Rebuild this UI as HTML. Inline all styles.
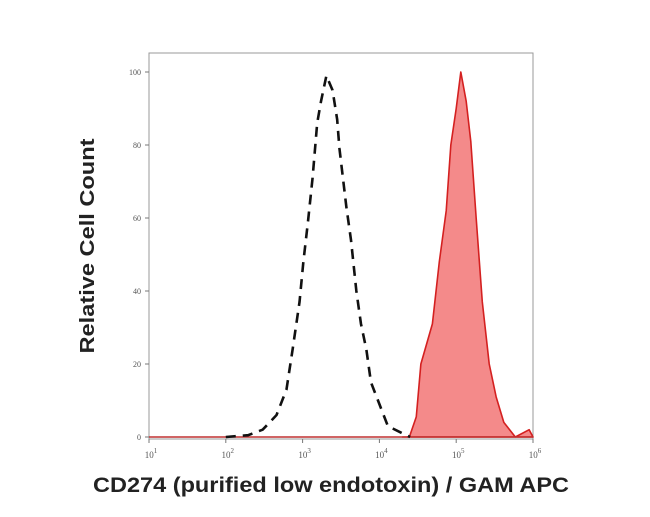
<!DOCTYPE html>
<html><head><meta charset="utf-8"><style>
html,body{margin:0;padding:0;background:#fff;}
svg{display:block;}
</style></head><body>
<svg id="chart" width="650" height="517" viewBox="0 0 650 517" xmlns="http://www.w3.org/2000/svg">
<g id="plot"></g>
<text transform="translate(94,246) rotate(-90)" text-anchor="middle" font-family="Liberation Sans, sans-serif" font-weight="bold" font-size="20" fill="#222" textLength="215" lengthAdjust="spacingAndGlyphs">Relative Cell Count</text>
<text x="331" y="492" text-anchor="middle" font-family="Liberation Sans, sans-serif" font-weight="bold" font-size="21" fill="#222" textLength="476" lengthAdjust="spacingAndGlyphs">CD274 (purified low endotoxin) / GAM APC</text>
</svg>
<script>
const xTickExps = [1,2,3,4,5,6];
const yTicks = [0,20,40,60,80,100];
const controlLog = [2.0,2.29,2.48,2.66,2.79,2.87,2.96,3.01,3.07,3.13,3.19,3.24,3.31,3.39,3.45,3.48,3.57,3.63,3.70,3.76,3.83,3.89,4.00,4.11,4.30,4.4];
const controlVal = [0,0.5,2,6,13,24,37,48,59,71,86,92,99,95,87,79,63,54,40,31,24,15,9,3,1,0];
const stainedLog = [4.3,4.39,4.48,4.54,4.69,4.78,4.87,4.93,5.00,5.06,5.13,5.19,5.26,5.34,5.43,5.52,5.62,5.77,5.95,6.0];
const stainedVal = [0,0,5.5,20,31,48,62,80,90,100,92,81,60,37,20,11,4,0,2,0];

const L=149,R=533,T=53,B=439,Y0=437,Y100=72;
const xs = v => L + (v-1)*(R-L)/5;
const ys = v => Y0 - v*(Y0-Y100)/100;
const NS="http://www.w3.org/2000/svg";
const g=document.getElementById('plot');
function mk(tag,attrs){const e=document.createElementNS(NS,tag);for(const k in attrs)e.setAttribute(k,attrs[k]);g.appendChild(e);return e;}

const frame=mk('rect',{x:L,y:T,width:R-L,height:B-T,fill:'none',stroke:'#999','stroke-width':1});



yTicks.forEach(v=>{
  const t=mk('line',{x1:L-4,x2:L,y1:ys(v),y2:ys(v),stroke:'#777'});
  
  
  const lb=mk('text',{x:L-8,y:ys(v)+3,'text-anchor':'end','font-family':'Liberation Serif, serif','font-size':8,fill:'#555'});
  lb.textContent=v;
  
  
});
xTickExps.forEach(e=>{
  const t=mk('line',{x1:xs(e),x2:xs(e),y1:B,y2:B+4,stroke:'#777'});
  
  
  const lb=mk('text',{x:xs(e)+2,y:B+19,'text-anchor':'middle','font-family':'Liberation Serif, serif','font-size':9,fill:'#555'});
  lb.textContent='10';
  const sp=document.createElementNS(NS,'tspan');sp.setAttribute('dy','-5');sp.setAttribute('font-size','7');sp.textContent=e;lb.appendChild(sp);
  
  
});

let d='M'+xs(stainedLog[0])+','+ys(0);
stainedLog.forEach((x,i)=>{d+=' L'+xs(x)+','+ys(stainedVal[i]);});
d+=' L'+xs(6)+','+ys(0)+' Z';
const area=mk('path',{d:d,fill:'#f48a8a',stroke:'#d42020','stroke-width':1.6,'stroke-linejoin':'round'});



const base=mk('line',{x1:L,x2:R,y1:ys(0),y2:ys(0),stroke:'#c03030','stroke-width':1.5});



let d2='';
controlLog.forEach((x,i)=>{d2+=(i?' L':'M')+xs(x)+','+ys(controlVal[i]);});
const ctrl=mk('path',{d:d2,fill:'none',stroke:'#111','stroke-width':2.6,'stroke-dasharray':'10,7'});


</script>
</body></html>
